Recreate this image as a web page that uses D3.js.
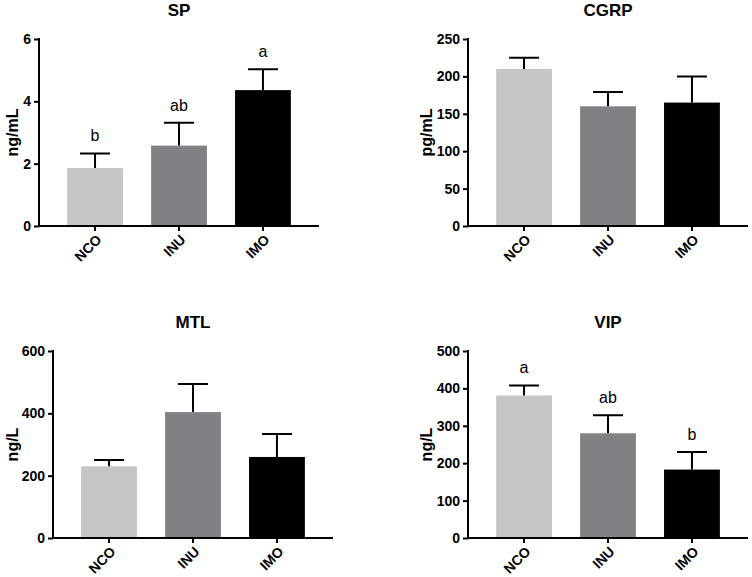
<!DOCTYPE html>
<html><head><meta charset="utf-8">
<script src="https://cdn.jsdelivr.net/npm/d3@7"></script>
<style>body{margin:0;background:#fff}svg{display:block}text{font-family:"Liberation Sans",Arial,Helvetica,sans-serif}</style>
</head><body>
<script>
const groups = ["NCO", "INU", "IMO"];
const barColors = ["#c5c6c8", "#808184", "#000000"];

const spMean = [1.86, 2.58, 4.36];
const spErr = [2.33, 3.31, 5.03];
const spLetters = ["b", "ab", "a"];
const spTicks = [0, 2, 4, 6];

const cgrpMean = [210, 160, 165];
const cgrpErr = [225, 179, 200];
const cgrpTicks = [0, 50, 100, 150, 200, 250];

const mtlMean = [230, 404, 260];
const mtlErr = [250, 494, 334];
const mtlTicks = [0, 200, 400, 600];

const vipMean = [381, 280, 183];
const vipErr = [408, 328, 230];
const vipLetters = ["a", "ab", "b"];
const vipTicks = [0, 100, 200, 300, 400, 500];

const panels = [
  {title:"SP", unit:"ng/mL", mean:spMean, err:spErr, letters:spLetters, ticks:spTicks, left:39, top:39, bottom:226, labelX:12, titleY:16},
  {title:"CGRP", unit:"pg/mL", mean:cgrpMean, err:cgrpErr, letters:null, ticks:cgrpTicks, left:468, top:39, bottom:226, labelX:426, titleY:16},
  {title:"MTL", unit:"ng/L", mean:mtlMean, err:mtlErr, letters:null, ticks:mtlTicks, left:53, top:351, bottom:538, labelX:12, titleY:328},
  {title:"VIP", unit:"ng/L", mean:vipMean, err:vipErr, letters:vipLetters, ticks:vipTicks, left:468, top:351, bottom:538, labelX:426, titleY:328}
];

const W = 752, H = 577, plotW = 280;
const svg = d3.select("body").append("svg").attr("width", W).attr("height", H);
const FF = '"Liberation Sans",Arial,Helvetica,sans-serif';

panels.forEach(p => {
  const g = svg.append("g");
  const x = d3.scaleBand().domain(groups).range([p.left, p.left + plotW]).padding(0.335);
  const y = d3.scaleLinear().domain([0, d3.max(p.ticks)]).range([p.bottom, p.top]);

  // bars
  g.selectAll("rect.bar").data(groups).join("rect")
    .attr("x", d => x(d)).attr("width", x.bandwidth())
    .attr("y", (d, i) => y(p.mean[i])).attr("height", (d, i) => y(0) - y(p.mean[i]))
    .attr("fill", (d, i) => barColors[i]);

  // error bars (upper only)
  const cap = 30;
  g.selectAll("path.err").data(groups).join("path")
    .attr("d", (d, i) => {
      const cx = x(d) + x.bandwidth() / 2;
      return `M${cx},${y(p.mean[i])}V${y(p.err[i])}M${cx - cap/2},${y(p.err[i])}H${cx + cap/2}`;
    })
    .attr("stroke", "#000").attr("stroke-width", 2).attr("fill", "none");

  // letters
  if (p.letters) {
    g.selectAll("text.let").data(groups).join("text")
      .attr("x", d => x(d) + x.bandwidth() / 2)
      .attr("y", (d, i) => y(p.err[i]) - 12)
      .attr("text-anchor", "middle").style("font-size", "16px").style("font-family", FF).attr("fill", "#000")
      .text((d, i) => p.letters[i]);
  }

  // y axis
  const ya = g.append("g").attr("transform", `translate(${p.left},0)`)
    .call(d3.axisLeft(y).tickValues(p.ticks).tickFormat(d3.format("d")).tickSize(5).tickPadding(3).tickSizeOuter(0));
  ya.select(".domain").attr("stroke-width", 2).attr("d", `M0,${p.top - 1}V${p.bottom + 1}`);
  ya.selectAll(".tick line").attr("stroke-width", 2);
  ya.selectAll(".tick text").style("font-size", "14px").style("font-weight", "bold").style("font-family", FF).attr("fill", "#000");

  // x axis
  const xa = g.append("g").attr("transform", `translate(0,${p.bottom})`)
    .call(d3.axisBottom(x).tickSize(5).tickSizeOuter(0).tickFormat(""));
  xa.select(".domain").attr("stroke-width", 2).attr("d", `M${p.left - 1},0H${p.left + plotW}`);
  xa.selectAll(".tick line").attr("stroke-width", 2);

  g.selectAll("text.xl").data(groups).join("text")
    .attr("transform", d => `translate(${x(d) + x.bandwidth()/2 + 4},${p.bottom + 11}) rotate(-45)`)
    .attr("text-anchor", "end").attr("dy", "0.35em")
    .style("font-size", "14px").style("font-weight", "bold").style("font-family", FF).attr("fill", "#000")
    .text(d => d);

  // y label
  g.append("text")
    .attr("transform", `translate(${p.labelX},${(p.top + p.bottom)/2}) rotate(-90)`)
    .attr("text-anchor", "middle").attr("dy", "0.35em")
    .style("font-size", "16px").style("font-weight", "bold").style("font-family", FF).attr("fill", "#000")
    .text(p.unit);

  // title
  g.append("text")
    .attr("x", p.left + plotW / 2).attr("y", p.titleY)
    .attr("text-anchor", "middle").style("font-size", "17px").style("font-weight", "bold").style("font-family", FF).attr("fill", "#000")
    .text(p.title);
});
</script>
</body></html>
